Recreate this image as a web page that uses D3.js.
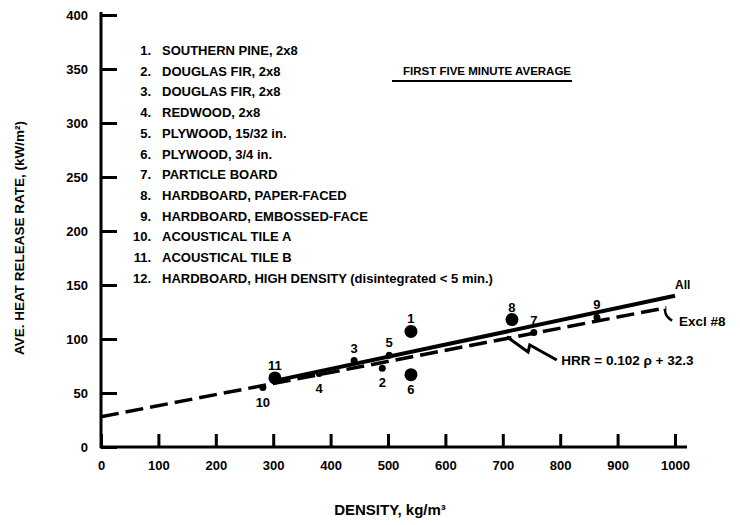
<!DOCTYPE html>
<html>
<head>
<meta charset="utf-8">
<script src="https://cdn.jsdelivr.net/npm/d3@7"></script>
<style>
  body { margin: 0; background: #fff; }
  svg text { font-family: "Liberation Sans", Arial, sans-serif; font-weight: bold; fill: #000; }
  .axis path, .axis line { stroke: #000; stroke-width: 3px; }
  .axis text { font-size: 13px; }
</style>
</head>
<body>
<svg id="chart" width="740" height="525"></svg>
<script>
// axis ticks
var xTicks = [0, 100, 200, 300, 400, 500, 600, 700, 800, 900, 1000];
var yTicks = [0, 50, 100, 150, 200, 250, 300, 350, 400];

// legend
var legendNums = ["1.", "2.", "3.", "4.", "5.", "6.", "7.", "8.", "9.", "10.", "11.", "12."];
var legendNames = [
  "SOUTHERN PINE, 2x8",
  "DOUGLAS FIR, 2x8",
  "DOUGLAS FIR, 2x8",
  "REDWOOD, 2x8",
  "PLYWOOD, 15/32 in.",
  "PLYWOOD, 3/4 in.",
  "PARTICLE BOARD",
  "HARDBOARD, PAPER-FACED",
  "HARDBOARD, EMBOSSED-FACE",
  "ACOUSTICAL TILE A",
  "ACOUSTICAL TILE B",
  "HARDBOARD, HIGH DENSITY (disintegrated < 5 min.)"
];

// data points (density kg/m3, avg HRR kW/m2)
var pointIds = ["1", "6", "3", "5", "2", "4", "11", "10", "8", "7", "9"];
var pointDensity = [540, 540, 441, 502, 490, 380, 303, 282, 716, 754, 864];
var pointHRR = [107, 67, 80, 85, 73, 68, 64, 55, 118, 106, 120];
var pointLabelSide = ["up", "down", "up", "up", "down", "down", "up", "down", "up", "up", "up"];
var pointMarker = ["circle", "circle", "dot", "dot", "dot", "dot", "circle", "dot", "circle", "dot", "dot"];

// regression lines
var allLine = [[300, 61], [1000, 140]];
var exclLine = [[0, 28], [985, 129]];
var exclPointer = [[982, 128], [984, 121], [995, 117]];
var hrrLeader = [[794, 80.6], [747, 94.4], [744, 88], [707, 102]];

var svg = d3.select("#chart");
var x = d3.scaleLinear().domain([0, 1000]).range([101, 675]);
var y = d3.scaleLinear().domain([0, 400]).range([447, 15]);

// axes
svg.append("g")
  .attr("class", "axis")
  .attr("transform", "translate(0," + y(0) + ")")
  .call(d3.axisBottom(x).tickValues(xTicks).tickFormat(d3.format("d"))
    .tickSize(-13).tickPadding(14).tickSizeOuter(0))
  .call(g => g.select(".domain").attr("d", "M" + (x(0) - 1) + ",0H" + (x(1000) + 12)));

svg.append("g")
  .attr("class", "axis")
  .attr("transform", "translate(" + x(0) + ",0)")
  .call(d3.axisLeft(y).tickValues(yTicks).tickSize(-16).tickPadding(13).tickSizeOuter(0))
  .call(g => g.select(".domain").attr("d", "M0," + (y(400) - 3) + "V" + (y(0) + 1)));

// axis titles
svg.append("text")
  .text("DENSITY, kg/m\u00B3")
  .attr("x", 390).attr("y", 515)
  .attr("text-anchor", "middle")
  .style("font-size", "15px");

svg.append("text")
  .text("AVE. HEAT RELEASE RATE, (kW/m\u00B2)")
  .attr("text-anchor", "middle")
  .style("font-size", "13.5px")
  .attr("transform", "translate(24,238)rotate(-90)");

// legend
var leg = svg.append("g");
leg.selectAll("text.num")
  .data(legendNums)
  .enter().append("text")
  .attr("class", "num")
  .attr("x", 151)
  .attr("y", (d, i) => 55 + i * 20.7)
  .attr("text-anchor", "end")
  .style("font-size", "13px")
  .text(d => d);

leg.selectAll("text.name")
  .data(legendNames)
  .enter().append("text")
  .attr("class", "name")
  .attr("x", 162)
  .attr("y", (d, i) => 55 + i * 20.7)
  .style("font-size", "13px")
  .text(d => d);

// heading
svg.append("text")
  .text("FIRST FIVE MINUTE AVERAGE")
  .attr("x", 403).attr("y", 75)
  .style("font-size", "11.5px");
svg.append("line")
  .attr("x1", 392).attr("x2", 572)
  .attr("y1", 81).attr("y2", 81)
  .attr("stroke", "#000").attr("stroke-width", 2);

// lines
var line = d3.line().x(d => x(d[0])).y(d => y(d[1]));

svg.append("path")
  .datum(exclLine)
  .attr("d", line)
  .attr("fill", "none")
  .attr("stroke", "#000")
  .attr("stroke-width", 3.5)
  .attr("stroke-dasharray", "18,7");

svg.append("path")
  .datum(allLine)
  .attr("d", line)
  .attr("fill", "none")
  .attr("stroke", "#000")
  .attr("stroke-width", 4);

svg.append("path")
  .datum(exclPointer)
  .attr("d", line.curve(d3.curveBasis))
  .attr("fill", "none")
  .attr("stroke", "#000")
  .attr("stroke-width", 2.5);
line.curve(d3.curveLinear);

svg.append("path")
  .datum(hrrLeader)
  .attr("d", line)
  .attr("fill", "none")
  .attr("stroke", "#000")
  .attr("stroke-width", 3);

// points
var pts = pointIds.map((id, i) => ({
  id: id, d: pointDensity[i], v: pointHRR[i],
  side: pointLabelSide[i], marker: pointMarker[i]
}));

svg.selectAll("circle.pt")
  .data(pts)
  .enter().append("circle")
  .attr("class", "pt")
  .attr("cx", d => x(d.d))
  .attr("cy", d => y(d.v))
  .attr("r", d => d.marker == "circle" ? 6.5 : 3.5)
  .attr("fill", "#000");

svg.selectAll("text.pt")
  .data(pts)
  .enter().append("text")
  .attr("class", "pt")
  .attr("x", d => x(d.d))
  .attr("y", d => y(d.v) + (d.side == "up" ? -8 : 19))
  .attr("text-anchor", "middle")
  .style("font-size", "13px")
  .text(d => d.id);

// line labels
svg.append("text")
  .text("All")
  .attr("x", x(1000)).attr("y", y(146))
  .style("font-size", "12px");
svg.append("text")
  .text("Excl #8")
  .attr("x", x(1007)).attr("y", y(112))
  .style("font-size", "13.5px");
svg.append("text")
  .text("HRR = 0.102 \u03C1 + 32.3")
  .attr("x", x(802)).attr("y", y(76))
  .style("font-size", "13.5px");
</script>
</body>
</html>
